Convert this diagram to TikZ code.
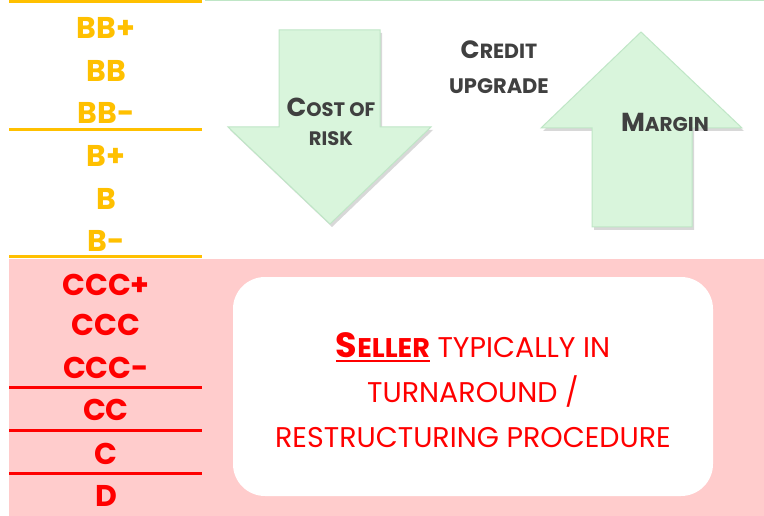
\documentclass[tikz,border=0pt]{standalone}
\usepackage{fontspec}
\setmainfont{Poppins}
\usetikzlibrary{shadows}
\definecolor{gold}{HTML}{FFC000}
\definecolor{rred}{HTML}{FF0000}
\definecolor{pinkbg}{HTML}{FFCCCC}
\definecolor{mint}{HTML}{D9F5DC}
\definecolor{mintline}{HTML}{BFE6C6}
\definecolor{dgray}{HTML}{404040}
\newcommand{\myul}[1]{\setbox0\hbox{#1}\rlap{\color{rred}\rule[-5pt]{\wd0}{2.8pt}}\box0\relax}
\tikzset{
  ylab/.style={text=gold, font=\bfseries\fontsize{30}{30}\selectfont, inner sep=0pt},
  rlab/.style={text=rred, font=\bfseries\fontsize{30}{30}\selectfont, inner sep=0pt},
  yline/.style={draw=gold, line width=3pt},
  rline/.style={draw=rred, line width=3pt},
  bigarrow/.style={fill=mint, draw=mintline, line width=1pt,
     drop shadow={opacity=0.3, shadow xshift=2pt, shadow yshift=-3pt}},
  gtxt/.style={text=dgray, font=\bfseries, inner sep=0pt, align=center},
}
\begin{document}
\begin{tikzpicture}[x=1pt,y=-1pt]
\useasboundingbox (0,0) rectangle (764,516);
\fill[white] (0,0) rectangle (764,516);
\draw[mintline, line width=1pt] (205,0.5) -- (764,0.5);
\fill[pinkbg] (9,259) rectangle (764,516);
% gold lines
\draw[yline] (9,1.5) -- (202,1.5);
\draw[yline] (9,130) -- (202,130);
\draw[yline] (9,257) -- (202,257);
% red lines
\draw[rline] (9,387) -- (202,387);
\draw[rline] (9,430) -- (202,430);
\draw[rline] (9,473) -- (202,473);
% rating labels
\node[ylab] (bbp) at (106,28) {BB+};
\node[ylab] (bb)  at (106,71) {BB};
\node[ylab] (bbm) at (106,113) {BB-};
\node[ylab] (bp)  at (106,156) {B+};
\node[ylab] (b)   at (106,199) {B};
\node[ylab] (bm)  at (106,241) {B-};
\node[rlab] (cccp) at (106,285) {CCC+};
\node[rlab] (ccc)  at (106,325) {CCC};
\node[rlab] (cccm) at (106,368) {CCC-};
\node[rlab] (cc)   at (106,410) {CC};
\node[rlab] (c)    at (106,454) {C};
\node[rlab] (d)    at (106,495.5) {D};
% arrows
\draw[bigarrow] (279,30) -- (380,30) -- (380,127) -- (431,127) -- (330,224) -- (228,127) -- (279,127) -- cycle;
\draw[bigarrow] (641,32) -- (742,128) -- (692,128) -- (692,227) -- (592,227) -- (592,128) -- (541,128) -- cycle;
\node[gtxt] (cost) at (331,107) {{\fontsize{26}{26}\selectfont C}{\fontsize{19.5}{20}\selectfont OST OF}};
\node[gtxt] (risk) at (331,139) {\fontsize{19.5}{20}\selectfont RISK};
\node[gtxt] (credit) at (499,50) {{\fontsize{25}{25}\selectfont C}{\fontsize{20.5}{21}\selectfont REDIT}};
\node[gtxt] (upgrade) at (499,86) {\fontsize{21}{21}\selectfont UPGRADE};
\node[gtxt] (margin) at (665,122) {{\fontsize{26}{26}\selectfont M}{\fontsize{20}{20}\selectfont ARGIN}};
% white box
\fill[white, rounded corners=32pt] (233,277) rectangle (713,496);
\node[text=rred, align=center, inner sep=0pt, font=\fontsize{28.5}{45}\selectfont] (seller) at (473,390)
  {\myul{\bfseries{\fontsize{35}{45}\selectfont S}{\fontsize{27}{45}\selectfont ELLER}} TYPICALLY IN\\ TURNAROUND /\\ RESTRUCTURING PROCEDURE};
\end{tikzpicture}
\end{document}
